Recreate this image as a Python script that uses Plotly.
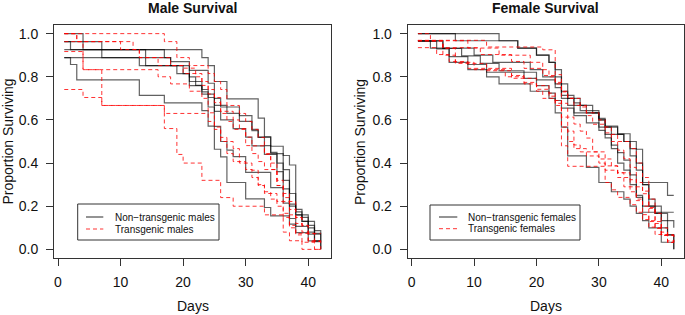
import plotly.graph_objects as go

# ---------------- Data ----------------
# Each curve: list of step start days and survival proportions (step "hv")
male_nontg_days = [
    [1, 4, 23, 24, 25, 27, 32, 33, 34, 36, 37, 38, 39, 41, 42],
    [1, 2, 17, 18, 20, 21, 23, 24, 25, 27, 29, 31, 32, 33, 34, 36, 37, 38, 39, 40, 41, 42],
    [1, 4, 7, 13, 14, 18, 21, 22, 23, 25, 26, 28, 30, 31, 33, 35, 36, 37, 38, 40, 41, 42],
    [1, 2, 3, 13, 17, 23, 24, 25, 26, 27, 30, 33, 34, 36, 37, 38, 40, 42],
    [1, 7, 13, 17, 19, 21, 23, 24, 25, 26, 27, 28, 30, 34, 36, 37, 38, 40, 41, 42],
    [1, 13, 14, 16, 18, 21, 23, 24, 25, 26, 28, 29, 31, 32, 34, 35, 36, 37, 38, 39, 40, 41, 42],
]
male_nontg_surv = [
    [1.0, 0.926, 0.889, 0.852, 0.778, 0.698, 0.608, 0.521, 0.478, 0.435, 0.391, 0.174, 0.13, 0.087, 0.043],
    [0.963, 0.926, 0.889, 0.852, 0.815, 0.778, 0.741, 0.704, 0.667, 0.63, 0.593, 0.556, 0.519, 0.481, 0.444, 0.37, 0.259, 0.185, 0.148, 0.111, 0.074, 0.037],
    [0.963, 0.963, 0.889, 0.889, 0.852, 0.852, 0.80, 0.76, 0.72, 0.64, 0.60, 0.56, 0.52, 0.48, 0.44, 0.36, 0.28, 0.20, 0.16, 0.08, 0.04, 0.0],
    [0.889, 0.857, 0.786, 0.714, 0.679, 0.643, 0.571, 0.464, 0.429, 0.31, 0.234, 0.194, 0.155, 0.155, 0.117, 0.078, 0.039, 0.0],
    [0.889, 0.889, 0.852, 0.852, 0.815, 0.759, 0.73, 0.66, 0.57, 0.50, 0.46, 0.43, 0.357, 0.286, 0.214, 0.143, 0.107, 0.071, 0.036, 0.036],
    [0.926, 0.926, 0.889, 0.889, 0.87, 0.83, 0.83, 0.77, 0.70, 0.66, 0.66, 0.62, 0.55, 0.52, 0.45, 0.40, 0.32, 0.21, 0.16, 0.13, 0.10, 0.07, 0.07],
]
male_tg_days = [
    [1, 17, 19, 21, 24, 25, 26, 27, 29, 30, 31, 32, 33, 34, 35, 36, 37, 38, 39, 40, 41, 42],
    [1, 3, 11, 12, 13, 16, 20, 22, 23, 24, 25, 26, 28, 29, 30, 31, 33, 34, 35, 36, 37, 38, 39, 40, 42],
    [1, 3, 10, 13, 16, 18, 20, 23, 24, 25, 26, 27, 28, 30, 31, 32, 33, 35, 36, 37, 38, 39, 40, 42],
    [1, 4, 7, 17, 24, 25, 26, 27, 28, 30, 31, 32, 33, 35, 36, 37, 38, 40, 42],
    [1, 4, 7, 17, 19, 20, 23, 26, 28, 33, 36, 37, 39, 42],
    [1, 4, 16, 18, 21, 23, 24, 25, 26, 28, 29, 31, 32, 33, 34, 35, 36, 37, 38, 39, 41, 42],
]
male_tg_surv = [
    [1.0, 0.963, 0.889, 0.852, 0.815, 0.778, 0.741, 0.667, 0.63, 0.593, 0.556, 0.519, 0.444, 0.37, 0.296, 0.222, 0.185, 0.148, 0.111, 0.074, 0.037, 0.037],
    [1.0, 0.963, 0.963, 0.926, 0.889, 0.852, 0.84, 0.80, 0.76, 0.72, 0.68, 0.64, 0.60, 0.56, 0.52, 0.48, 0.44, 0.40, 0.32, 0.24, 0.16, 0.12, 0.08, 0.04, 0.0],
    [1.0, 0.963, 0.926, 0.889, 0.889, 0.852, 0.815, 0.778, 0.741, 0.704, 0.63, 0.593, 0.556, 0.481, 0.444, 0.407, 0.37, 0.296, 0.259, 0.222, 0.148, 0.111, 0.074, 0.074],
    [0.741, 0.704, 0.667, 0.63, 0.593, 0.556, 0.519, 0.444, 0.407, 0.37, 0.333, 0.296, 0.259, 0.222, 0.148, 0.111, 0.074, 0.037, 0.037],
    [0.917, 0.833, 0.667, 0.56, 0.44, 0.40, 0.32, 0.24, 0.20, 0.16, 0.08, 0.04, 0.0, 0.0],
    [0.963, 0.833, 0.80, 0.767, 0.733, 0.70, 0.633, 0.567, 0.50, 0.467, 0.40, 0.367, 0.30, 0.267, 0.233, 0.20, 0.167, 0.10, 0.067, 0.033, 0.0, 0.0],
]

female_nontg_days = [
    [1, 14, 17, 20, 22, 23, 24, 25, 26, 28, 30, 31, 32, 34, 35, 36, 37, 38, 39, 40, 41, 42],
    [1, 5, 10, 13, 19, 21, 23, 24, 25, 26, 30, 31, 32, 33, 34, 35, 36, 37, 39, 40, 41, 42],
    [1, 4, 6, 9, 12, 20, 23, 24, 26, 27, 30, 31, 33, 35, 36, 37, 41, 42],
    [1, 5, 8, 11, 14, 18, 20, 22, 23, 24, 26, 28, 30, 31, 32, 33, 34, 35, 36, 37, 42],
    [1, 3, 6, 9, 12, 14, 19, 22, 23, 24, 25, 28, 30, 32, 34, 35, 36, 37, 38, 40, 42],
    [1, 7, 17, 20, 22, 23, 24, 25, 27, 29, 30, 31, 33, 34, 35, 36, 37, 38, 39, 40, 41, 42],
]
female_nontg_surv = [
    [1.0, 0.967, 0.933, 0.90, 0.867, 0.80, 0.733, 0.70, 0.667, 0.633, 0.60, 0.567, 0.533, 0.50, 0.433, 0.367, 0.30, 0.233, 0.20, 0.167, 0.133, 0.10],
    [0.967, 0.933, 0.90, 0.867, 0.833, 0.80, 0.767, 0.70, 0.667, 0.633, 0.567, 0.533, 0.467, 0.40, 0.367, 0.30, 0.25, 0.20, 0.167, 0.10, 0.067, 0.033],
    [0.964, 0.929, 0.893, 0.857, 0.821, 0.786, 0.75, 0.714, 0.679, 0.643, 0.607, 0.571, 0.536, 0.50, 0.464, 0.31, 0.25, 0.25],
    [0.966, 0.931, 0.897, 0.862, 0.828, 0.793, 0.759, 0.724, 0.69, 0.655, 0.62, 0.586, 0.552, 0.517, 0.483, 0.448, 0.414, 0.345, 0.241, 0.172, 0.172],
    [0.967, 0.933, 0.867, 0.833, 0.80, 0.767, 0.733, 0.70, 0.633, 0.567, 0.433, 0.38, 0.31, 0.267, 0.233, 0.20, 0.167, 0.133, 0.10, 0.033, 0.0],
    [1.0, 0.967, 0.933, 0.90, 0.867, 0.833, 0.767, 0.70, 0.667, 0.633, 0.60, 0.567, 0.533, 0.50, 0.467, 0.40, 0.30, 0.20, 0.167, 0.133, 0.067, 0.0],
]
female_tg_days = [
    [1, 3, 9, 14, 19, 21, 22, 23, 24, 25, 26, 28, 30, 31, 32, 33, 35, 36, 37, 38, 39, 40, 41, 42],
    [1, 4, 6, 9, 16, 18, 20, 22, 23, 24, 25, 26, 27, 30, 31, 33, 35, 36, 37, 38, 39, 40, 42],
    [1, 5, 11, 16, 18, 21, 23, 24, 25, 26, 27, 28, 29, 31, 32, 33, 34, 36, 37, 38, 39, 40, 41, 42],
    [1, 12, 21, 23, 24, 25, 27, 28, 29, 31, 32, 33, 34, 35, 36, 37, 38, 39, 40, 41, 42],
    [1, 5, 7, 10, 15, 18, 20, 21, 23, 24, 25, 26, 28, 30, 31, 33, 35, 36, 37, 38, 39, 40, 42],
    [1, 5, 7, 12, 16, 20, 22, 23, 24, 25, 31, 32, 33, 35, 36, 37, 38, 39, 41, 42],
]
female_tg_surv = [
    [1.0, 0.967, 0.933, 0.90, 0.867, 0.833, 0.80, 0.767, 0.733, 0.70, 0.667, 0.633, 0.60, 0.567, 0.533, 0.50, 0.467, 0.40, 0.333, 0.233, 0.167, 0.10, 0.067, 0.067],
    [0.935, 0.903, 0.871, 0.839, 0.806, 0.774, 0.742, 0.71, 0.677, 0.613, 0.548, 0.484, 0.452, 0.419, 0.387, 0.355, 0.323, 0.29, 0.258, 0.194, 0.129, 0.065, 0.032],
    [0.968, 0.935, 0.903, 0.871, 0.839, 0.806, 0.774, 0.677, 0.613, 0.581, 0.548, 0.516, 0.452, 0.419, 0.387, 0.355, 0.29, 0.226, 0.161, 0.129, 0.097, 0.065, 0.032, 0.032],
    [0.969, 0.938, 0.925, 0.81, 0.73, 0.70, 0.66, 0.62, 0.58, 0.54, 0.50, 0.46, 0.42, 0.38, 0.31, 0.27, 0.19, 0.12, 0.08, 0.04, 0.04],
    [0.967, 0.90, 0.867, 0.833, 0.80, 0.767, 0.733, 0.70, 0.667, 0.567, 0.50, 0.467, 0.433, 0.40, 0.367, 0.333, 0.267, 0.233, 0.20, 0.133, 0.10, 0.067, 0.033],
    [0.966, 0.931, 0.862, 0.828, 0.793, 0.759, 0.724, 0.69, 0.48, 0.385, 0.31, 0.276, 0.241, 0.207, 0.172, 0.138, 0.103, 0.069, 0.034, 0.034],
]

panel_titles = ["Male Survival", "Female Survival"]
legend_labels = [["Non\u2212transgenic males", "Transgenic males"],
                 ["Non\u2212transgenic females", "Transgenic females"]]
x_ticks = [0, 10, 20, 30, 40]
y_ticks = [0.0, 0.2, 0.4, 0.6, 0.8, 1.0]

# ---------------- Figure ----------------
W, H = 685, 315
FONT = "Liberation Sans, Arial, Helvetica, sans-serif"
BLACK = "rgba(0,0,0,0.62)"
RED = "rgba(255,0,0,0.8)"
BLACK_LINE = dict(shape="hv", color=BLACK, width=1.2)
RED_LINE = dict(shape="hv", color=RED, width=1, dash="4px,3px")

fig = go.Figure()

panels = [
    (male_nontg_days, male_nontg_surv, male_tg_days, male_tg_surv, "x", "y"),
    (female_nontg_days, female_nontg_surv, female_tg_days, female_tg_surv, "x2", "y2"),
]

for p, (nd, ns, td, ts, xa, ya) in enumerate(panels):
    for d, s in zip(nd, ns):
        fig.add_trace(go.Scatter(x=d, y=s, mode="lines", line=BLACK_LINE,
                                 name=legend_labels[p][0], showlegend=False,
                                 xaxis=xa, yaxis=ya, hoverinfo="skip"))
    for d, s in zip(td, ts):
        fig.add_trace(go.Scatter(x=d, y=s, mode="lines", line=RED_LINE,
                                 name=legend_labels[p][1], showlegend=False,
                                 xaxis=xa, yaxis=ya, hoverinfo="skip"))

dom_left = [54 / W, 331 / W]
dom_right = [407.7 / W, 684 / W]
dom_y = [(H - 258) / H, (H - 25) / H]

axis_common = dict(showline=True, mirror=True, linecolor="#333", linewidth=1,
                   ticks="outside", ticklen=7, tickcolor="#333", tickwidth=1,
                   showgrid=False, zeroline=False,
                   tickfont=dict(family=FONT, size=14, color="#111"))

xcfg = dict(axis_common, range=[-0.64, 43.64], tickvals=x_ticks, ticklabelstandoff=4)
ycfg = dict(axis_common, range=[-0.04, 1.04], tickvals=y_ticks, tickformat=".1f", ticklabelstandoff=5)

fig.update_layout(
    width=W, height=H,
    margin=dict(l=0, r=0, t=0, b=0),
    paper_bgcolor="white", plot_bgcolor="white",
    font=dict(family=FONT, color="#111"),
    xaxis=dict(xcfg, domain=dom_left, anchor="y"),
    yaxis=dict(ycfg, domain=dom_y, anchor="x"),
    xaxis2=dict(xcfg, domain=dom_right, anchor="y2"),
    yaxis2=dict(ycfg, domain=dom_y, anchor="x2"),
    showlegend=False,
)

def px(xp):
    return xp / W

def py(yp):
    return (H - yp) / H

# legend boxes drawn as shapes + text (box, sample x-range, text x, row y's)
legend_layout = [
    dict(box=(77.7, 204, 219, 240), sample=(86, 103.3), text_x=113, rows=(217, 229)),
    dict(box=(430, 205, 580, 240), sample=(439, 457.3), text_x=466, rows=(217, 228.7)),
]
for p, lay in enumerate(legend_layout):
    x0, y0, x1, y1 = lay["box"]
    fig.add_shape(type="rect", xref="paper", yref="paper",
                  x0=px(x0), x1=px(x1), y0=py(y1), y1=py(y0),
                  fillcolor="white", line=dict(color="#333", width=1), layer="above")
    styles = [dict(color="rgba(0,0,0,0.7)", width=1.2),
              dict(color=RED, width=1, dash="4px,3px")]
    for r in range(2):
        fig.add_shape(type="line", xref="paper", yref="paper",
                      x0=px(lay["sample"][0]), x1=px(lay["sample"][1]),
                      y0=py(lay["rows"][r]), y1=py(lay["rows"][r]),
                      line=styles[r], layer="above")
        fig.add_annotation(text=legend_labels[p][r], x=px(lay["text_x"]), y=py(lay["rows"][r]),
                           xref="paper", yref="paper", showarrow=False,
                           xanchor="left", yanchor="middle",
                           font=dict(family=FONT, size=10, color="#111"))

centers = [(dom_left[0] + dom_left[1]) / 2, (dom_right[0] + dom_right[1]) / 2]
ylab_x = [7 / W, 359.5 / W]
ymid = (dom_y[0] + dom_y[1]) / 2
for p in range(2):
    fig.add_annotation(text=f"<b>{panel_titles[p]}</b>", x=centers[p], y=py(8),
                       xref="paper", yref="paper", showarrow=False,
                       xanchor="center", yanchor="middle",
                       font=dict(family=FONT, size=14, color="#111"))
    fig.add_annotation(text="Days", x=centers[p], y=py(306),
                       xref="paper", yref="paper", showarrow=False,
                       xanchor="center", yanchor="middle",
                       font=dict(family=FONT, size=14, color="#111"))
    fig.add_annotation(text="Proportion Surviving", x=ylab_x[p], y=ymid,
                       xref="paper", yref="paper", showarrow=False, textangle=-90,
                       xanchor="center", yanchor="middle",
                       font=dict(family=FONT, size=14, color="#111"))

fig.write_html("out.html", config={"displayModeBar": False},
               post_script="document.body.style.margin='0';document.body.style.overflow='hidden';")
